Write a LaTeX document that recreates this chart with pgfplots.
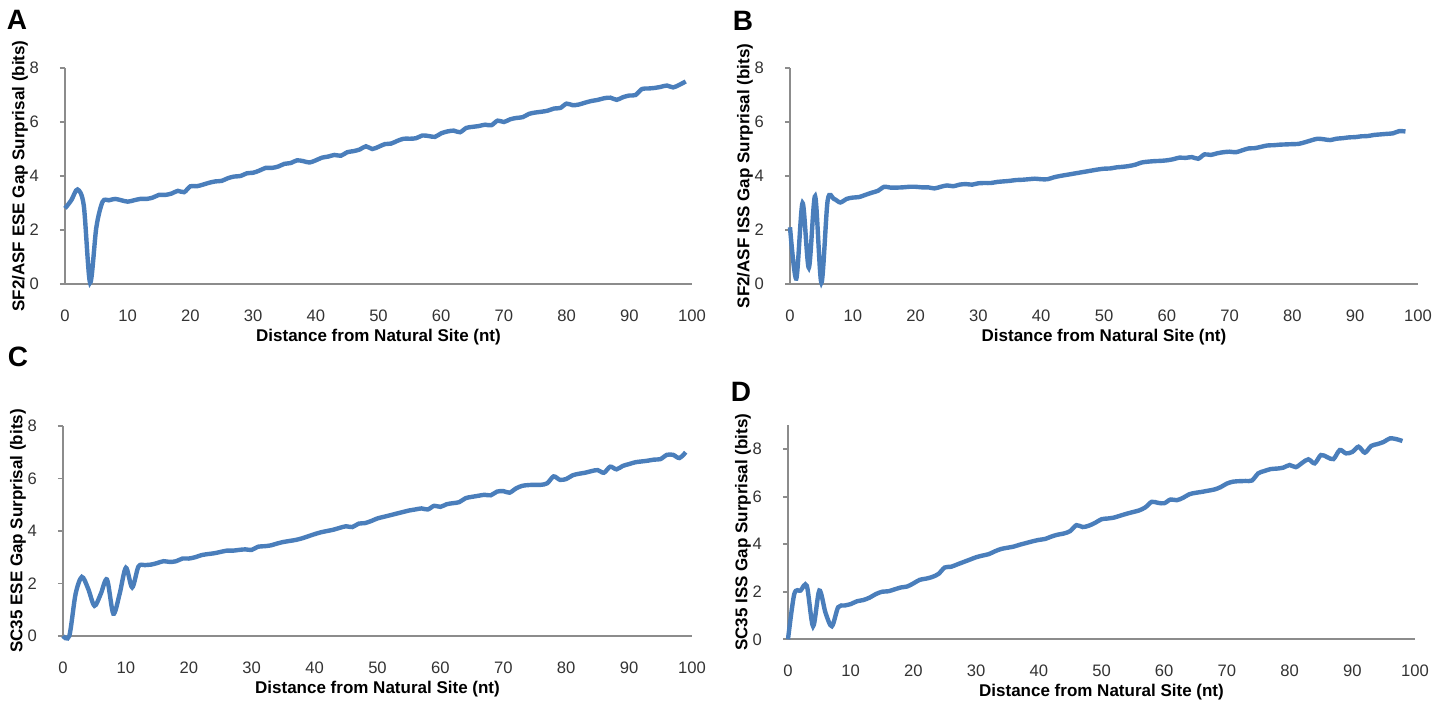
\documentclass[border=0pt]{standalone}
\usepackage{pgfplots}
\pgfplotsset{compat=1.18}
\usepackage{fontspec}
\setmainfont{Liberation Sans}
\definecolor{excelblue}{HTML}{4A7EBB}
\definecolor{axgray}{HTML}{8C8C8C}
\definecolor{ticktext}{HTML}{333333}
\pgfplotsset{
  panel/.style={
    scale only axis,
    anchor=south west,
    xmin=0, xmax=100,
    ymin=0,
    axis x line*=bottom,
    axis y line*=left,
    hide obscured x ticks=false,
    hide obscured y ticks=false,
    axis line style={-, draw=axgray, line width=0.9pt},
    xtick={0,10,...,100},
    xtick style={draw=none},
    ytick style={draw=axgray, line width=0.9pt},
    tick align=outside,
    major tick length=2.5pt,
    /pgf/number format/assume math mode=true,
    ticklabel style={font=\fontsize{8.3}{10}\selectfont, text=ticktext},
    xticklabel style={yshift=-7pt},
    yticklabel style={xshift=-7pt},
    xlabel={Distance from Natural Site (nt)},
    xlabel style={at={(axis description cs:0.5,0)}, anchor=center, yshift=-26.5pt, font=\fontsize{8.5}{10}\bfseries\selectfont},
    ylabel style={at={(axis description cs:0,0.5)}, anchor=center, yshift=22.5pt, font=\fontsize{8.5}{10}\bfseries\selectfont},
    clip=false,
  },
  curve/.style={excelblue, line width=2.2pt, smooth, tension=0.5, no markers},
}
\begin{document}
\begin{tikzpicture}[x=1pt,y=1pt]
\useasboundingbox (0,0) rectangle (726,352.5);

% Panel A
\begin{axis}[panel, at={(32.5pt,210.5pt)}, width=313.5pt, height=108pt, ymax=8, ytick={0,2,...,8},
  ylabel={SF2/ASF ESE Gap Surprisal (bits)}]
\addplot[curve] coordinates {
(0,2.80)(1,3.10)(2,3.50)(3,2.90)(4,0.05)(5,2.10)(6,3.05)(7,3.10)(8,3.15)(9,3.10)
(10,3.05)(11,3.10)(12,3.15)(13,3.15)(14,3.20)(15,3.30)(16,3.30)(17,3.35)(18,3.45)(19,3.40)
(20,3.62)(21,3.62)(22,3.68)(23,3.75)(24,3.80)(25,3.82)(26,3.92)(27,3.98)(28,4.00)(29,4.10)
(30,4.12)(31,4.20)(32,4.30)(33,4.30)(34,4.35)(35,4.45)(36,4.48)(37,4.58)(38,4.55)(39,4.50)
(40,4.58)(41,4.68)(42,4.72)(43,4.78)(44,4.75)(45,4.88)(46,4.92)(47,4.98)(48,5.10)(49,5.00)
(50,5.08)(51,5.18)(52,5.20)(53,5.30)(54,5.38)(55,5.38)(56,5.40)(57,5.50)(58,5.48)(59,5.45)
(60,5.58)(61,5.65)(62,5.68)(63,5.62)(64,5.78)(65,5.82)(66,5.85)(67,5.90)(68,5.88)(69,6.05)
(70,6.00)(71,6.10)(72,6.15)(73,6.18)(74,6.30)(75,6.35)(76,6.38)(77,6.42)(78,6.50)(79,6.52)
(80,6.68)(81,6.62)(82,6.65)(83,6.72)(84,6.78)(85,6.82)(86,6.88)(87,6.90)(88,6.82)(89,6.92)
(90,6.98)(91,7.00)(92,7.22)(93,7.24)(94,7.26)(95,7.30)(96,7.35)(97,7.28)(98,7.38)(99,7.50)
};
\end{axis}

% Panel B
\begin{axis}[panel, at={(395pt,210.5pt)}, width=314pt, height=108pt, ymax=8, ytick={0,2,...,8},
  ylabel={SF2/ASF ISS Gap Surprisal (bits)}]
\addplot[curve] coordinates {
(0,2.10)(1,0.20)(2,3.00)(3,0.60)(4,3.25)(5,0.05)(6,3.10)(7,3.15)(8,3.02)(9,3.15)
(10,3.20)(11,3.22)(12,3.30)(13,3.38)(14,3.45)(15,3.60)(16,3.57)(17,3.57)(18,3.58)(19,3.60)
(20,3.60)(21,3.58)(22,3.58)(23,3.54)(24,3.60)(25,3.65)(26,3.62)(27,3.68)(28,3.70)(29,3.68)
(30,3.73)(31,3.74)(32,3.74)(33,3.78)(34,3.80)(35,3.82)(36,3.85)(37,3.86)(38,3.88)(39,3.90)
(40,3.88)(41,3.88)(42,3.95)(43,4.00)(44,4.04)(45,4.08)(46,4.12)(47,4.16)(48,4.20)(49,4.24)
(50,4.27)(51,4.28)(52,4.32)(53,4.34)(54,4.37)(55,4.42)(56,4.50)(57,4.53)(58,4.55)(59,4.56)
(60,4.58)(61,4.62)(62,4.68)(63,4.67)(64,4.70)(65,4.64)(66,4.80)(67,4.78)(68,4.84)(69,4.88)
(70,4.90)(71,4.88)(72,4.95)(73,5.02)(74,5.03)(75,5.08)(76,5.13)(77,5.14)(78,5.16)(79,5.17)
(80,5.18)(81,5.19)(82,5.25)(83,5.32)(84,5.38)(85,5.36)(86,5.33)(87,5.38)(88,5.40)(89,5.43)
(90,5.44)(91,5.47)(92,5.48)(93,5.52)(94,5.54)(95,5.56)(96,5.58)(97,5.66)(98,5.65)
};
\end{axis}

% Panel C
\begin{axis}[panel, at={(31.5pt,34.5pt)}, width=314.5pt, height=105pt, ymax=8, ytick={0,2,...,8},
  ylabel={SC35 ESE Gap Surprisal (bits)}]
\addplot[curve] coordinates {
(0,0.00)(1,0.00)(2,1.60)(3,2.25)(4,1.80)(5,1.15)(6,1.60)(7,2.15)(8,0.85)(9,1.60)
(10,2.60)(11,1.85)(12,2.65)(13,2.70)(14,2.72)(15,2.78)(16,2.85)(17,2.82)(18,2.85)(19,2.95)
(20,2.95)(21,3.00)(22,3.08)(23,3.12)(24,3.15)(25,3.20)(26,3.25)(27,3.25)(28,3.28)(29,3.30)
(30,3.28)(31,3.40)(32,3.42)(33,3.45)(34,3.52)(35,3.58)(36,3.62)(37,3.66)(38,3.72)(39,3.80)
(40,3.88)(41,3.95)(42,4.00)(43,4.05)(44,4.12)(45,4.18)(46,4.15)(47,4.28)(48,4.30)(49,4.38)
(50,4.48)(51,4.54)(52,4.60)(53,4.66)(54,4.72)(55,4.78)(56,4.82)(57,4.86)(58,4.82)(59,4.96)
(60,4.92)(61,5.02)(62,5.06)(63,5.10)(64,5.25)(65,5.30)(66,5.34)(67,5.38)(68,5.36)(69,5.50)
(70,5.52)(71,5.46)(72,5.62)(73,5.72)(74,5.75)(75,5.76)(76,5.76)(77,5.82)(78,6.08)(79,5.95)
(80,5.98)(81,6.12)(82,6.18)(83,6.22)(84,6.28)(85,6.32)(86,6.22)(87,6.45)(88,6.35)(89,6.48)
(90,6.55)(91,6.62)(92,6.65)(93,6.68)(94,6.72)(95,6.74)(96,6.90)(97,6.90)(98,6.78)(99,7.00)
};
\end{axis}

% Panel D
\begin{axis}[panel, at={(394pt,32.85pt)}, width=313.5pt, height=107pt, ymax=9, ytick={0,2,...,8},
  ylabel={SC35 ISS Gap Surprisal (bits)}]
\addplot[curve] coordinates {
(0,0.00)(1,1.90)(2,2.05)(3,2.25)(4,0.55)(5,2.05)(6,1.10)(7,0.55)(8,1.35)(9,1.42)
(10,1.48)(11,1.60)(12,1.65)(13,1.75)(14,1.90)(15,2.00)(16,2.02)(17,2.10)(18,2.18)(19,2.22)
(20,2.35)(21,2.50)(22,2.55)(23,2.62)(24,2.75)(25,3.02)(26,3.05)(27,3.15)(28,3.25)(29,3.35)
(30,3.45)(31,3.52)(32,3.58)(33,3.70)(34,3.80)(35,3.85)(36,3.90)(37,3.98)(38,4.05)(39,4.12)
(40,4.18)(41,4.22)(42,4.32)(43,4.40)(44,4.45)(45,4.55)(46,4.80)(47,4.72)(48,4.78)(49,4.90)
(50,5.05)(51,5.08)(52,5.12)(53,5.20)(54,5.28)(55,5.35)(56,5.42)(57,5.55)(58,5.78)(59,5.74)
(60,5.72)(61,5.88)(62,5.85)(63,5.95)(64,6.10)(65,6.16)(66,6.20)(67,6.25)(68,6.30)(69,6.40)
(70,6.55)(71,6.63)(72,6.65)(73,6.66)(74,6.68)(75,6.98)(76,7.08)(77,7.16)(78,7.18)(79,7.22)
(80,7.33)(81,7.24)(82,7.42)(83,7.57)(84,7.40)(85,7.75)(86,7.66)(87,7.58)(88,7.96)(89,7.82)
(90,7.88)(91,8.10)(92,7.85)(93,8.13)(94,8.21)(95,8.30)(96,8.45)(97,8.42)(98,8.34)
};
\end{axis}

\node[font=\fontsize{14}{16}\bfseries\selectfont] at (8.5,342.5) {A};
\node[font=\fontsize{14}{16}\bfseries\selectfont] at (371.5,342) {B};
\node[font=\fontsize{14}{16}\bfseries\selectfont] at (9,174) {C};
\node[font=\fontsize{14}{16}\bfseries\selectfont] at (370.5,156.5) {D};
\end{tikzpicture}
\end{document}
